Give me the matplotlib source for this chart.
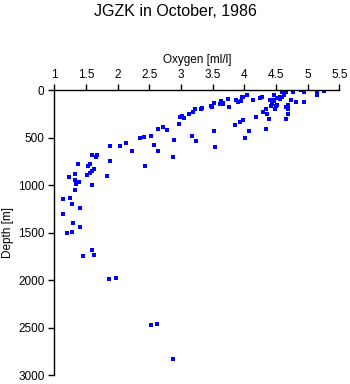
import matplotlib
matplotlib.use('Agg')
import matplotlib.pyplot as plt

plt.rcParams['font.family'] = ['Liberation Sans', 'DejaVu Sans']

oxygen = [3.31, 3.22, 3.19, 3.12, 3.05, 3.01, 2.99, 2.97, 3.18, 3.23,
          2.89, 2.78, 2.71, 2.63, 2.53, 2.41, 2.35, 2.58, 2.64, 2.87,
          2.44, 2.22, 2.14, 2.04, 1.88, 1.88, 1.84, 1.68, 1.66, 1.60,
          1.57, 1.53, 1.63, 1.59, 1.57, 1.51, 1.38, 1.32, 1.24, 1.32,
          1.39, 1.35, 1.60, 1.32, 1.14, 1.25, 1.28, 1.41, 1.14, 1.30,
          1.41, 1.20, 1.28, 1.46, 1.60, 1.62, 1.87, 1.97, 2.52, 2.62,
          2.87, 3.34, 3.47, 3.49, 3.52, 3.61, 3.63, 3.67, 3.67, 3.74,
          3.76, 3.87, 3.90, 3.95, 3.96, 3.98, 4.05, 4.14, 4.25, 4.28,
          4.47, 4.41, 4.47, 4.52, 4.56, 4.59, 4.62, 4.66, 4.63, 4.60,
          4.77, 4.77, 4.90, 4.95, 5.15, 5.14, 5.26, 4.74, 4.81, 4.95,
          4.69, 4.66, 4.69, 4.69, 4.66, 4.51, 4.43, 4.42, 4.48, 4.34,
          4.30, 4.36, 4.39, 4.34, 4.19, 4.08, 3.98, 3.94, 3.85, 4.01,
          3.52, 3.54, 4.56, 4.62, 4.66, 4.47, 4.43, 4.50]
depth = [198, 198, 227, 248, 293, 269, 276, 353, 483, 532,
         525, 420, 388, 406, 483, 487, 498, 578, 638, 701,
         799, 641, 554, 585, 588, 740, 902, 683, 704, 683,
         775, 799, 831, 846, 870, 894, 778, 884, 915, 947,
         965, 983, 1000, 1052, 1147, 1134, 1200, 1242, 1305, 1394,
         1443, 1506, 1495, 1745, 1685, 1738, 1988, 1977, 2476, 2465,
         2835, 185, 160, 177, 135, 146, 114, 129, 146, 93,
         174, 100, 121, 114, 72, 72, 51, 100, 82, 69,
         51, 103, 114, 79, 86, 13, 0, 16, 47, 65,
         5, 19, 0, 13, 30, 51, 5, 100, 124, 124,
         150, 177, 198, 251, 304, 150, 142, 167, 198, 198,
         224, 251, 304, 403, 283, 424, 308, 329, 367, 504,
         430, 599, 65, 30, 0, 105, 130, 160]

xticks = [1, 1.5, 2, 2.5, 3, 3.5, 4, 4.5, 5, 5.5]
xlabels = ['1', '1.5', '2', '2.5', '3', '3.5', '4', '4.5', '5', '5.5']
yticks = [0, 500, 1000, 1500, 2000, 2500, 3000]

fig = plt.figure(figsize=(3.5, 3.84), dpi=100)
ax = fig.add_axes([0.155, 0.0234, 0.8145, 0.741])

ax.plot(oxygen, depth, 's', color='#0000ff', markersize=2.5, markeredgewidth=0)

ax.set_xlim(1, 5.5)
ax.set_ylim(3000, 0)
ax.xaxis.tick_top()
ax.xaxis.set_label_position('top')
ax.set_xticks(xticks)
ax.set_xticklabels(xlabels)
ax.set_yticks(yticks)
ax.tick_params(direction='out', length=4, width=1, labelsize=8.5, pad=3, colors='black')
ax.spines['right'].set_visible(False)
ax.spines['bottom'].set_visible(False)
ax.spines['left'].set_linewidth(1)
ax.spines['top'].set_linewidth(1)
ax.set_xlabel('Oxygen [ml/l]', fontsize=8.5, labelpad=4)
ax.set_ylabel('Depth [m]', fontsize=8.5, labelpad=3)

fig.suptitle('JGZK in October, 1986', fontsize=11.5, y=0.99)

fig.savefig('out.png', dpi=100)
